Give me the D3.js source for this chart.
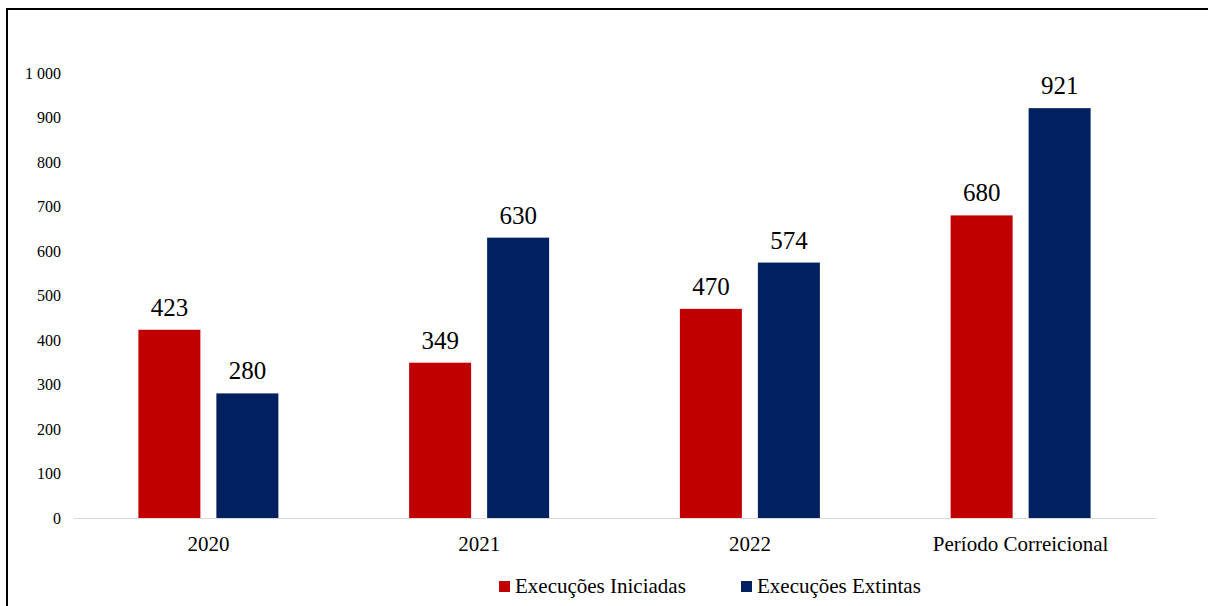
<!DOCTYPE html>
<html><head><meta charset="utf-8">
<script src="https://cdn.jsdelivr.net/npm/d3@7"></script>
<style>body{margin:0;background:#fff;}svg{display:block;}</style>
</head><body>
<svg id="c" width="1208" height="606"></svg>
<script>
const categories = ["2020", "2021", "2022", "Período Correicional"];
const seriesNames = ["Execuções Iniciadas", "Execuções Extintas"];
const iniciadas = [423, 349, 470, 680];
const extintas = [280, 630, 574, 921];
const yTicks = [0, 100, 200, 300, 400, 500, 600, 700, 800, 900, 1000];
const colors = ["#c00000", "#002060"];

const FONT = "'Liberation Serif'";
const svg = d3.select("#c");

// frame
svg.append("path").attr("d", "M7,606 L7,9 L1208,9").attr("fill", "none").attr("stroke", "#000").attr("stroke-width", 2);

const x0 = d3.scaleBand().domain(categories).range([73, 1156]).padding(0);
const y = d3.scaleLinear().domain([0, 1000]).range([518, 73]);
const barW = 62, gap = 16;

const data = categories.map((c, i) => ({c, vals: [iniciadas[i], extintas[i]]}));

// y axis labels
const yAxis = d3.axisLeft(y).tickValues(yTicks).tickSize(0).tickPadding(0)
  .tickFormat(d => d >= 1000 ? d3.format(",")(d).replace(",", " ") : String(d));
const gy = svg.append("g").attr("transform", "translate(61,0)").call(yAxis);
gy.select(".domain").remove();
gy.selectAll("text").style("font-family", FONT).style("font-size", "16px").attr("fill", "#000");

// x axis line
const xAxis = d3.axisBottom(x0).tickSize(0).tickPadding(18);
const gx = svg.append("g").attr("transform", "translate(0,518)").call(xAxis);
gx.select(".domain").attr("stroke", "#d9d9d9").attr("stroke-width", 1.2);
gx.selectAll("text").style("font-family", FONT).style("font-size", "21px").attr("fill", "#000");

// bars
const groups = svg.append("g").selectAll("g").data(data).join("g");
groups.each(function(d) {
  const g = d3.select(this);
  const cx = x0(d.c) + x0.bandwidth() / 2;
  d.vals.forEach((v, k) => {
    const bx = k === 0 ? cx - gap / 2 - barW : cx + gap / 2;
    g.append("rect").attr("x", bx).attr("y", y(v)).attr("width", barW)
      .attr("height", y(0) - y(v)).attr("fill", colors[k]);
    g.append("text").attr("x", bx + barW / 2).attr("y", y(v) - 14)
      .attr("text-anchor", "middle")
      .style("font-family", FONT).style("font-size", "25px").attr("fill", "#000").text(v);
  });
});

// legend
const legendX = [499, 741];
seriesNames.forEach((n, k) => {
  svg.append("rect").attr("x", legendX[k]).attr("y", 581).attr("width", 11).attr("height", 11).attr("fill", colors[k]);
  svg.append("text").attr("x", legendX[k] + 16).attr("y", 593)
    .style("font-family", FONT).style("font-size", "21px").attr("fill", "#000").text(n);
});
</script>
</body></html>
